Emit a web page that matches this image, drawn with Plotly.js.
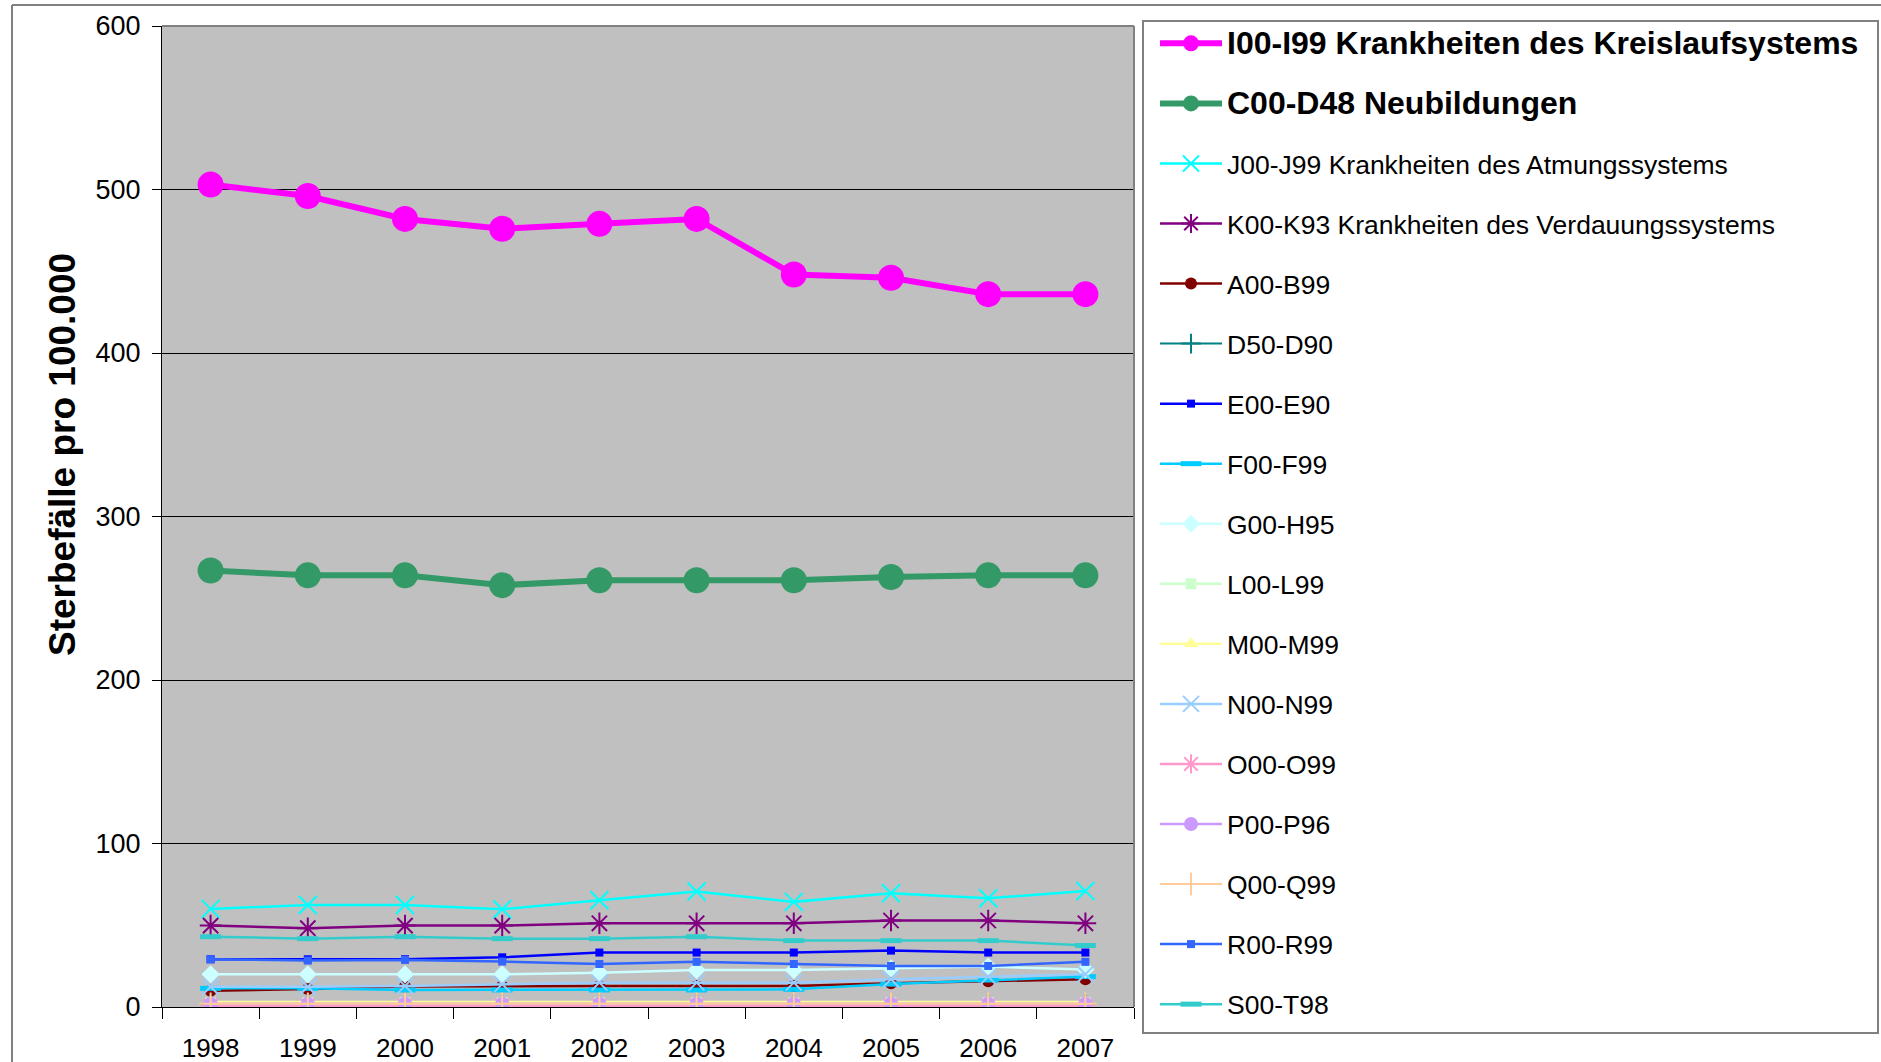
<!DOCTYPE html>
<html>
<head>
<meta charset="utf-8">
<script src="https://cdn.plot.ly/plotly-3.0.1.min.js"></script>
<style>
  html, body { margin: 0; padding: 0; background: #fff; }
  #chart { width: 1881px; height: 1062px; }
</style>
</head>
<body>
<div id="chart"></div>
<script>
// Sterbefälle pro 100.000 nach ICD-Kapiteln, 1998-2007
let years = ['1998','1999','2000','2001','2002','2003','2004','2005','2006','2007'];

let I00 = [503, 496, 482, 476, 479, 482, 448, 446, 436, 436];
let C00 = [267, 264, 264, 258, 261, 261, 261, 263, 264, 264];
let J00 = [60, 62.4, 62.4, 59.8, 65.3, 70.6, 64.3, 69.6, 66.5, 71];
let K00 = [49.8, 48.2, 49.8, 49.8, 51.2, 51.2, 51.2, 52.9, 52.9, 51.2];
let A00 = [10, 11, 12.5, 12.8, 12.8, 12.8, 12.8, 14.5, 15.8, 17];
let D50 = [1.8, 1.8, 1.8, 1.8, 1.8, 1.8, 1.8, 1.8, 1.8, 1.8];
let E00 = [29.2, 29.2, 29.2, 30.4, 33.3, 33.3, 33.3, 34.5, 33.3, 33.3];
let F00 = [11.4, 11.4, 10.4, 10.4, 10.4, 10.4, 10.8, 14, 16.5, 18.6];
let G00 = [20, 20, 20, 20, 21, 22.6, 22.6, 23.7, 24.7, 23];
let L00 = [2.5, 2.5, 2.5, 2.5, 2.5, 2.5, 2.5, 2.5, 2.5, 2.5];
let M00 = [3, 3, 3, 3, 3, 3, 3, 3, 3, 3];
let N00 = [12.4, 12.4, 12.9, 14, 14.9, 14.9, 14.9, 17, 18.6, 20];
let O00 = [0.7, 0.7, 0.7, 0.7, 0.7, 0.7, 0.7, 0.7, 0.7, 0.7];
let P00 = [2, 2, 2, 2, 2, 2, 2, 2, 2, 2];
let Q00 = [2, 2, 2, 2, 2, 2, 2, 2, 2, 2];
let R00 = [29.2, 28.4, 28.8, 27.8, 26.3, 27.6, 26.3, 25.1, 25.1, 27.6];
let S00 = [43, 41.8, 43, 41.8, 41.8, 43, 40.6, 40.6, 40.6, 37.6];

let names = [
    '<b><span style="font-size:32px">I00-I99 Krankheiten des Kreislaufsystems</span></b>',
    '<b><span style="font-size:32px">C00-D48 Neubildungen</span></b>',
    'J00-J99 Krankheiten des Atmungssystems',
    'K00-K93 Krankheiten des Verdauungssystems',
    'A00-B99', 'D50-D90', 'E00-E90', 'F00-F99', 'G00-H95', 'L00-L99',
    'M00-M99', 'N00-N99', 'O00-O99', 'P00-P96', 'Q00-Q99', 'R00-R99', 'S00-T98'
];

// series -> [values, colour, symbol, size, line width]
let series = [
    [I00, '#FF00FF', 'circle', 26, 6],
    [C00, '#339966', 'circle', 26, 6],
    [J00, '#00FFFF', 'x-thin-open', 18, 2.5],
    [K00, '#800080', 'asterisk-open', 18, 2.5],
    [A00, '#800000', 'circle', 12, 2.5],
    [D50, '#008080', 'cross-thin-open', 14, 2],
    [E00, '#0000FF', 'square', 8, 2.5],
    [F00, '#00CCFF', 'line-ew-open', 15, 2.5],
    [G00, '#CCFFFF', 'diamond', 14, 2.5],
    [L00, '#CCFFCC', 'square', 11, 2.5],
    [M00, '#FFFF99', 'triangle-up', 13, 2.5],
    [N00, '#99CCFF', 'x-thin-open', 16, 2.5],
    [O00, '#FF99CC', 'asterisk-open', 16, 2.5],
    [P00, '#CC99FF', 'circle', 14, 2.5],
    [Q00, '#FFCC99', 'cross-thin-open', 16, 2],
    [R00, '#3366FF', 'square', 8, 2.5],
    [S00, '#33CCCC', 'line-ew-open', 15, 2.5]
];

let data = [];
for(let i=0; i<series.length; i++){
    let s = series[i];
    let open = s[2].indexOf('open') >= 0;
    data.push({
        type: 'scatter',
        mode: 'lines+markers',
        x: years,
        y: s[0],
        name: names[i],
        legendgroup: 'g'+i,
        line: { color: s[1], width: s[4] },
        marker: {
            symbol: s[2],
            size: s[3],
            color: s[1],
            line: { color: s[1], width: open ? (s[2]=='line-ew-open' ? 5 : 2) : 0 }
        }
    });
}

// pixel -> paper helpers for the frame lines
let PL = 162, PR = 1134, PT = 26, PB = 1007;
let px = v => (v-PL)/(PR-PL);
let py = v => (PB-v)/(PB-PT);

let layout = {
    width: 1881,
    height: 1062,
    margin: { l: PL, r: 1881-PR, t: PT, b: 1062-PB, pad: 0 },
    paper_bgcolor: '#FFFFFF',
    plot_bgcolor: '#C0C0C0',
    font: { family: '"Liberation Sans", Arial, sans-serif', color: '#000000' },
    showlegend: true,
    xaxis: {
        type: 'category',
        range: [-0.5, 9.5],
        tickson: 'boundaries',
        ticks: 'outside',
        ticklen: 11,
        tickcolor: '#000000',
        showline: true,
        linecolor: '#000000',
        linewidth: 1,
        showgrid: false,
        zeroline: false,
        tickfont: { size: 26 },
        ticklabelstandoff: 18
    },
    yaxis: {
        range: [0, 600],
        dtick: 100,
        ticks: 'outside',
        ticklen: 9,
        tickcolor: '#000000',
        showline: true,
        linecolor: '#000000',
        linewidth: 1,
        showgrid: true,
        gridcolor: '#000000',
        gridwidth: 1,
        zeroline: false,
        tickfont: { size: 27 },
        ticklabelstandoff: 6
    },
    legend: {
        xref: 'container', yref: 'container',
        x: 1155/1881, y: 1 - 19.6/1062,
        xanchor: 'left', yanchor: 'top',
        bgcolor: 'rgba(0,0,0,0)',
        borderwidth: 0,
        maxheight: 1062,
        font: { size: 26.5, color: '#000000' },
        traceorder: 'grouped',
        tracegroupgap: 22.6,
        itemwidth: 62,
        itemclick: false
    },
    annotations: [{
        xref: 'paper', yref: 'paper',
        x: px(62), y: py(455),
        xanchor: 'center', yanchor: 'middle',
        text: '<b>Sterbefälle pro 100.000</b>',
        textangle: -90,
        showarrow: false,
        font: { size: 37, color: '#000000' }
    }],
    shapes: [
        // plot area frame (top, right)
        { type: 'line', xref: 'paper', yref: 'paper', x0: 0, x1: 1, y0: 1, y1: 1, line: { color: '#808080', width: 2 } },
        { type: 'line', xref: 'paper', yref: 'paper', x0: 1, x1: 1, y0: 0, y1: 1, line: { color: '#808080', width: 2 } },
        // outer chart frame (top, left)
        { type: 'line', xref: 'paper', yref: 'paper', x0: px(12), x1: px(1881), y0: py(5), y1: py(5), line: { color: '#808080', width: 2 } },
        { type: 'line', xref: 'paper', yref: 'paper', x0: px(12), x1: px(12), y0: py(5), y1: py(1062), line: { color: '#808080', width: 2 } },
        // legend box
        { type: 'rect', xref: 'paper', yref: 'paper', x0: px(1143), x1: px(1878), y0: py(1033), y1: py(21), fillcolor: 'rgba(0,0,0,0)', line: { color: '#808080', width: 2 } }
    ]
};

Plotly.newPlot('chart', data, layout, { displayModeBar: false, staticPlot: true });
</script>
</body>
</html>
